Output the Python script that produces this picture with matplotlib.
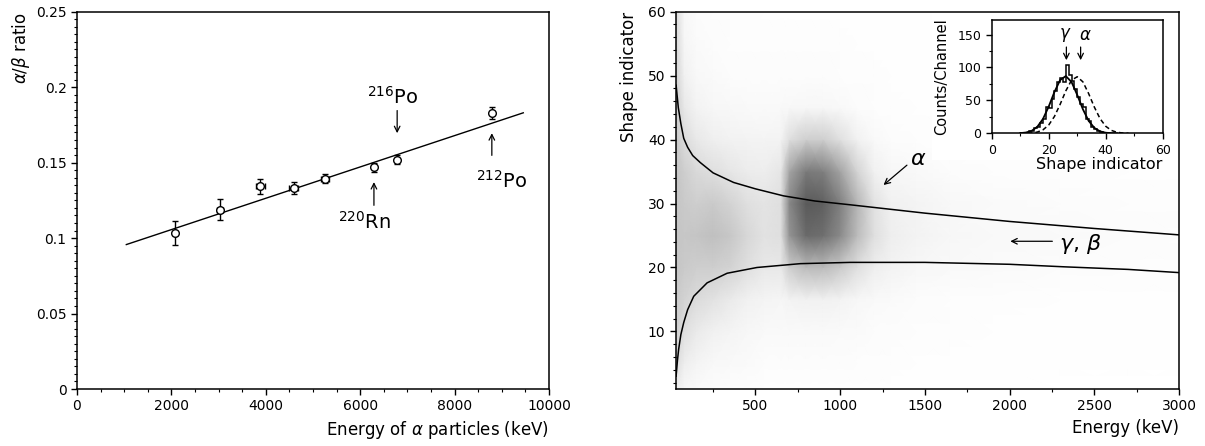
import matplotlib
matplotlib.use("Agg")
from matplotlib import pyplot as plt
from matplotlib.patches import Rectangle
from matplotlib.ticker import MultipleLocator, FormatStrFormatter
import numpy as np

plt.rcParams['font.family'] = ['DejaVu Sans']
plt.rcParams['mathtext.fontset'] = 'dejavusans'

# left panel: alpha/beta ratio vs alpha energy
alpha_energy = [2074, 3036, 3883, 4587, 5254, 6291, 6783, 8789]
alpha_energy_err = [40, 60, 95, 85, 80, 0, 0, 0]
ab_ratio = [0.1034, 0.1188, 0.1343, 0.1334, 0.1393, 0.1470, 0.1519, 0.1830]
ab_ratio_err = [0.0080, 0.0068, 0.0049, 0.0040, 0.0030, 0.0030, 0.0030, 0.0040]
fit_x = [1045, 9455]
fit_y = [0.0957, 0.1830]

# right panel: shape indicator vs energy (density of the scatter cloud)
dens_x = [30, 80, 150, 250, 350, 450, 550, 650, 700, 800, 900, 1000, 1100,
          1200, 1300, 1450, 1650, 1900, 2300, 2700, 3000]
dens_y = [1, 5, 10, 15, 20, 25, 30, 35, 40, 45, 50, 55, 60]
density = [
    [.14, .06, .04, .03, .02, .02, .01, .01, .01, .01, .01, .01, .01, .01, .01, .01, .01, .01, .00, .00, .00],
    [.24, .14, .09, .06, .05, .04, .03, .03, .03, .03, .03, .03, .02, .02, .02, .01, .01, .01, .01, .01, .01],
    [.30, .22, .16, .12, .09, .07, .05, .05, .05, .05, .05, .04, .04, .03, .03, .02, .02, .01, .01, .01, .01],
    [.32, .28, .24, .20, .16, .12, .09, .08, .10, .12, .12, .10, .07, .05, .04, .03, .02, .02, .01, .01, .01],
    [.34, .32, .30, .30, .28, .22, .17, .17, .30, .38, .38, .32, .22, .14, .10, .07, .05, .04, .03, .02, .02],
    [.34, .33, .34, .36, .33, .26, .20, .22, .50, .66, .64, .54, .38, .22, .14, .10, .07, .05, .04, .03, .02],
    [.34, .32, .30, .32, .28, .22, .19, .22, .55, .72, .70, .58, .40, .20, .12, .09, .06, .04, .03, .02, .02],
    [.34, .30, .25, .22, .18, .15, .14, .18, .45, .60, .58, .46, .28, .12, .07, .05, .03, .02, .02, .01, .01],
    [.33, .24, .17, .13, .11, .10, .09, .10, .22, .30, .30, .22, .12, .05, .03, .02, .02, .01, .01, .01, .01],
    [.30, .17, .10, .07, .06, .05, .05, .05, .06, .07, .07, .05, .03, .02, .02, .01, .01, .01, .01, .01, .01],
    [.28, .12, .06, .04, .03, .03, .03, .03, .03, .03, .03, .02, .02, .02, .01, .01, .01, .01, .01, .01, .01],
    [.26, .08, .04, .03, .02, .02, .02, .02, .02, .02, .02, .02, .01, .01, .01, .01, .01, .01, .01, .01, .01],
    [.24, .06, .03, .02, .02, .02, .01, .01, .01, .01, .01, .01, .01, .01, .01, .01, .01, .01, .01, .01, .01],
]

upper_x = [32, 45, 60, 77, 100, 130, 175, 250, 371, 500, 666, 850, 1061, 1500, 2000, 2500, 3000]
upper_y = [48.5, 45.0, 42.5, 40.2, 38.8, 37.5, 36.4, 34.8, 33.3, 32.3, 31.2, 30.4, 29.8, 28.5, 27.2, 26.1, 25.1]
lower_x = [32, 40, 47, 60, 77, 100, 136, 215, 333, 509, 765, 1060, 1500, 2000, 2327, 2700, 3000]
lower_y = [3.0, 5.5, 7.2, 9.5, 11.4, 13.4, 15.5, 17.6, 19.1, 20.0, 20.6, 20.8, 20.8, 20.5, 20.1, 19.7, 19.2]

# inset: shape indicator distributions
hist_edges = list(range(10, 43))
hist_counts = [0, 1, 1, 3, 4, 8, 10, 16, 22, 40, 38, 52, 64, 78, 84, 78, 104, 88,
               80, 68, 55, 44, 40, 22, 18, 10, 7, 4, 2, 1, 1, 0]
gamma_x = [10, 12, 14, 16, 18, 20, 22, 24, 26, 28, 30, 32, 34, 36, 38, 40, 42, 44]
gamma_y = [0.3, 1.2, 3.7, 9.9, 21.9, 40.6, 62.7, 80.8, 86.9, 78.0, 58.4, 36.5, 19.0, 8.3, 3.0, 0.9, 0.2, 0.0]
alpha_x = [10, 12, 14, 16, 18, 20, 22, 24, 26, 28, 30, 32, 34, 36, 38, 40, 42, 44, 46, 48]
alpha_y = [0.0, 0.2, 0.6, 1.9, 5.3, 12.6, 25.5, 43.9, 64.4, 80.6, 85.9, 78.1, 60.4, 39.9,
           22.4, 10.7, 4.4, 1.5, 0.5, 0.1]

fig = plt.figure(figsize=(12.05, 4.46), dpi=100)
ax1 = fig.add_axes([0.0639, 0.1278, 0.3917, 0.846])
ax2 = fig.add_axes([0.5608, 0.1278, 0.4177, 0.846])
ax3 = fig.add_axes([0.823, 0.7011, 0.1419, 0.254])


def style(ax, size=10):
    for s in ax.spines.values():
        s.set_linewidth(1.1)
    ax.tick_params(which='both', direction='out', top=False, right=False,
                   labelsize=size)
    ax.tick_params(which='major', length=4, width=1)
    ax.tick_params(which='minor', length=2.2, width=0.8)


# ---- left panel
ax1.plot(fit_x, fit_y, color='black', lw=1)
ax1.errorbar(alpha_energy, ab_ratio, yerr=ab_ratio_err, xerr=alpha_energy_err,
             fmt='o', ms=5.5, mfc='white', mec='black', mew=1, ecolor='black',
             elinewidth=1, capsize=2.5, zorder=3)
ax1.set_xlim(0, 10000)
ax1.set_ylim(0, 0.25)
ax1.xaxis.set_major_locator(MultipleLocator(2000))
ax1.xaxis.set_minor_locator(MultipleLocator(500))
ax1.yaxis.set_major_locator(MultipleLocator(0.05))
ax1.yaxis.set_minor_locator(MultipleLocator(0.005))
ax1.yaxis.set_major_formatter(FormatStrFormatter('%g'))
style(ax1)
ax1.set_xlabel(r'Energy of $\alpha$ particles (keV)', loc='right', fontsize=12)
ax1.set_ylabel(r'$\alpha/\beta$ ratio', loc='top', fontsize=12, labelpad=3)

arrow = dict(arrowstyle='->', lw=0.9, color='black', shrinkA=0, shrinkB=0)
ax1.annotate('', xy=(6783, 0.1695), xytext=(6783, 0.1845), arrowprops=arrow)
ax1.text(6692, 0.1933, r'$^{216}$Po', fontsize=14, ha='center', va='center')
ax1.annotate('', xy=(6291, 0.1371), xytext=(6291, 0.1217), arrowprops=arrow)
ax1.text(6086, 0.1107, r'$^{220}$Rn', fontsize=14, ha='center', va='center')
ax1.annotate('', xy=(8789, 0.1695), xytext=(8789, 0.1548), arrowprops=arrow)
ax1.text(9001, 0.1382, r'$^{212}$Po', fontsize=14, ha='center', va='center')

# ---- right panel
ax2.pcolormesh(dens_x, dens_y, np.array(density), shading='gouraud',
               cmap='Greys', vmin=0, vmax=1, rasterized=True, zorder=0)
ax2.add_patch(Rectangle((1543, 36.8), 1457, 23.2, facecolor='white',
                        edgecolor='none', zorder=1))
ax2.plot(upper_x, upper_y, color='black', lw=1.1, zorder=2)
ax2.plot(lower_x, lower_y, color='black', lw=1.1, zorder=2)
ax2.set_xlim(30, 3000)
ax2.set_ylim(1, 60)
ax2.xaxis.set_major_locator(MultipleLocator(500))
ax2.xaxis.set_minor_locator(MultipleLocator(250))
ax2.yaxis.set_major_locator(MultipleLocator(10))
ax2.yaxis.set_minor_locator(MultipleLocator(2))
style(ax2)
ax2.set_xlabel('Energy (keV)', loc='right', fontsize=12)
ax2.set_ylabel('Shape indicator', loc='top', fontsize=12, labelpad=7)

ax2.annotate('', xy=(1256, 32.9), xytext=(1394, 36.0), arrowprops=arrow, zorder=3)
ax2.text(1413, 37.0, r'$\alpha$', fontsize=16, ha='left', va='center', zorder=3)
ax2.annotate('', xy=(2004, 24.1), xytext=(2252, 24.1), arrowprops=arrow, zorder=3)
ax2.text(2290, 23.6, r'$\gamma$, $\beta$', fontsize=16, ha='left', va='center', zorder=3)

# ---- inset
ax3.set_facecolor('white')
ax3.stairs(hist_counts, hist_edges, color='black', lw=1.1)
ax3.plot(gamma_x, gamma_y, color='black', lw=1.3)
ax3.plot(alpha_x, alpha_y, color='black', lw=1.1, ls=(0, (3, 2)))
ax3.set_xlim(0, 60)
ax3.set_ylim(0, 172)
ax3.xaxis.set_major_locator(MultipleLocator(20))
ax3.xaxis.set_minor_locator(MultipleLocator(10))
ax3.yaxis.set_major_locator(MultipleLocator(50))
ax3.yaxis.set_minor_locator(MultipleLocator(25))
style(ax3, size=9)
ax3.set_xlabel('Shape indicator', loc='right', fontsize=11.5, labelpad=0)
ax3.set_ylabel('Counts/Channel', fontsize=10.5, labelpad=6)
ax3.annotate('', xy=(26.2, 111), xytext=(26.2, 131), arrowprops=arrow)
ax3.annotate('', xy=(31.2, 111), xytext=(31.2, 131), arrowprops=arrow)
ax3.text(25.8, 149, r'$\gamma$', fontsize=12, ha='center', va='center')
ax3.text(33.0, 149, r'$\alpha$', fontsize=12, ha='center', va='center')

plt.savefig('out.png', dpi=100)
